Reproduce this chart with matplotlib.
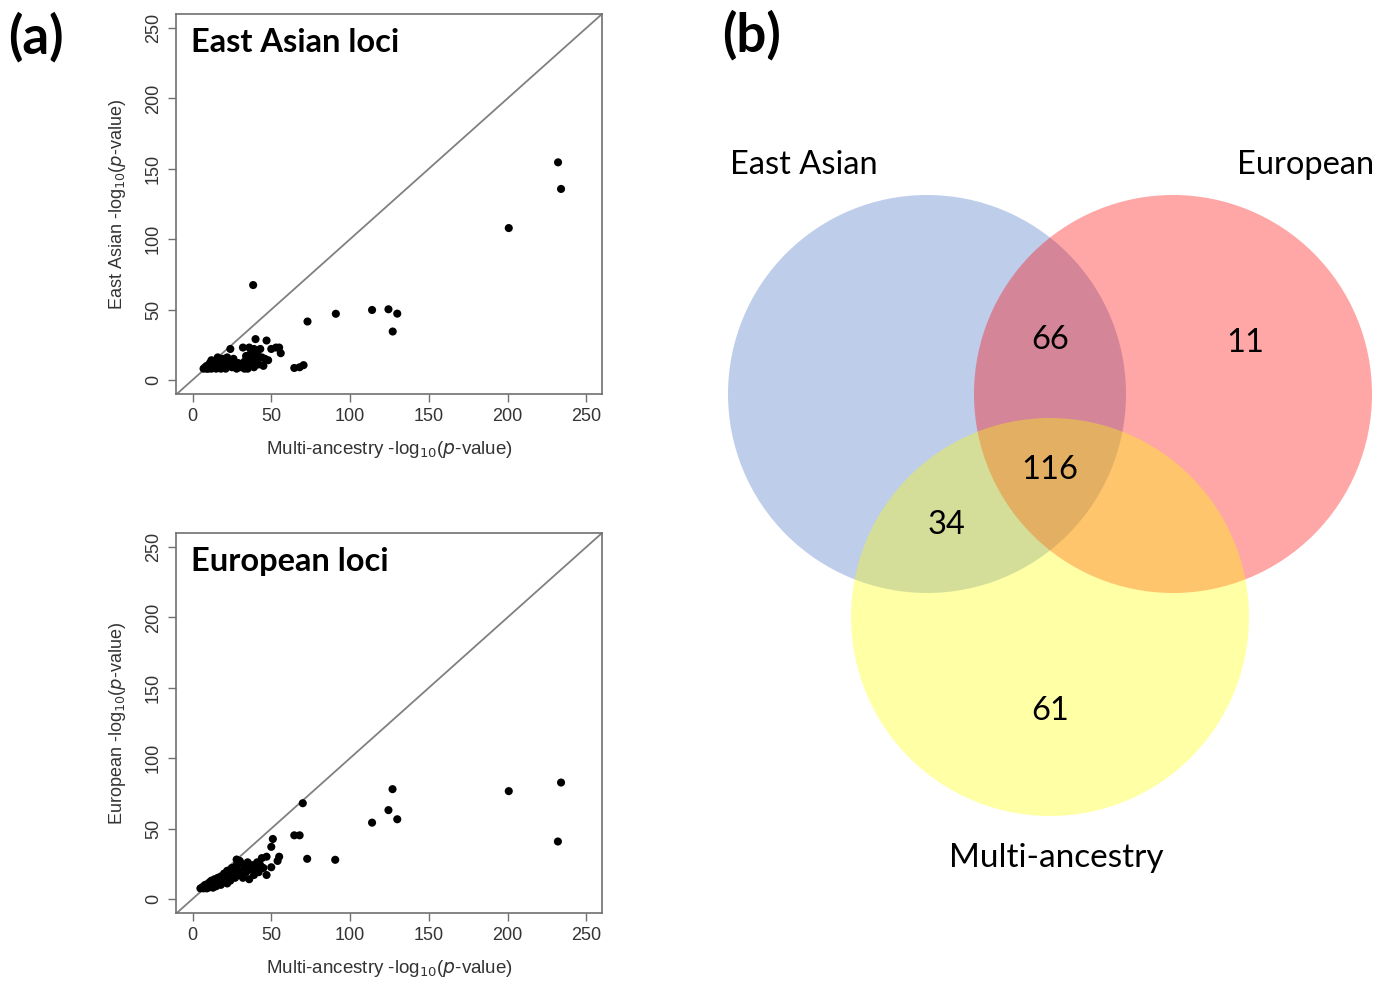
import matplotlib
matplotlib.use('Agg')
from matplotlib import pyplot as plt
from matplotlib.patches import Circle

# (a) top: East Asian loci, multi-ancestry vs East Asian -log10(p)
ea_x = [7, 8, 9, 9, 10, 10, 11, 11, 12, 12, 12, 13, 13, 14, 14, 15, 15, 16, 16, 17,
        17, 18, 18, 19, 19, 20, 20, 21, 21, 22, 22, 23, 24, 24, 25, 26, 27, 28, 29, 30,
        31, 32, 33, 33, 34, 35, 35, 36, 36, 37, 38, 38, 39, 39, 40, 40, 41, 42, 43, 44,
        45, 46, 47, 48, 50, 53, 55, 56, 64.6, 68, 70.5, 73, 91, 114, 124.4, 130, 127.1,
        200.8, 232.1, 234, 38.5]
ea_y = [8, 9, 8, 10, 10, 8, 9, 12, 11, 8, 14, 10, 13, 9, 12, 8, 14, 10, 16, 9,
        13, 12, 8, 11, 15, 14, 9, 8, 11, 12, 16, 10, 22, 13, 9, 15, 11, 8, 12, 9,
        10, 23, 13, 8, 17, 11, 8, 23, 15, 19, 12, 15, 22, 9, 29, 14, 18, 11, 22, 16,
        10, 15, 28, 14, 22, 23, 23, 19, 8.5, 9, 10.5, 41.5, 47, 49.7, 50.2, 47.1, 34.4,
        107.9, 154.6, 135.7, 67.4]

# (a) bottom: European loci, multi-ancestry vs European -log10(p)
eu_x = [5, 6, 7, 7, 8, 8, 9, 9, 10, 10, 11, 11, 12, 12, 13, 13, 14, 14, 15, 15,
        16, 16, 17, 18, 18, 19, 20, 20, 21, 22, 22, 23, 24, 25, 26, 27, 28, 28, 29, 30,
        30, 31, 32, 33, 34, 35, 36, 37, 38, 39, 40, 41, 42, 43, 44, 45, 47, 47, 50, 50,
        51, 54, 55, 64.6, 68, 70, 72.8, 90.6, 114, 124.4, 127, 130, 200.8, 232, 234]
eu_y = [7.5, 8, 7.5, 9, 8, 10, 9, 7.5, 11, 8, 10, 12, 9, 13, 11, 8, 14, 10, 12, 9,
        15, 11, 13, 10, 16, 14, 12, 18, 15, 11, 20, 17, 13, 22, 18, 15, 28, 24, 20, 27,
        17, 25, 15, 22, 19, 26, 14, 21, 24, 17, 22, 26, 19, 24, 29, 22, 30, 17, 22.5, 37,
        42.6, 27, 30, 45.2, 45.2, 68, 28.5, 27.8, 54.2, 63.1, 78, 56.6, 76.6, 40.8, 82.7]

# (b) Venn counts
set_names = ['East Asian', 'European', 'Multi-ancestry']
region_counts = {'EA&EU': 66, 'EU': 11, 'ALL': 116, 'EA&MA': 34, 'MA': 61}

W, H = 1394, 983
fig = plt.figure(figsize=(W / 100, H / 100), dpi=100)
fig.patch.set_facecolor('white')

tick_font = 'Liberation Sans'
title_font = 'Lato'


def scatter_panel(rect, x, y, title, ylabel):
    ax = fig.add_axes(rect)
    ax.scatter(x, y, s=34, color='black', edgecolors='none', zorder=3)
    ax.axline((0, 0), slope=1, color='#808080', lw=1.3, zorder=2)
    ax.set_xlim(-10.5, 260)
    ax.set_ylim(-10, 260)
    ax.set_xticks([0, 50, 100, 150, 200, 250])
    ax.set_yticks([0, 50, 100, 150, 200, 250])
    for sp in ax.spines.values():
        sp.set_color('#707070')
        sp.set_linewidth(1.2)
    ax.tick_params(direction='out', length=6, width=1, color='#707070',
                   labelsize=13, labelcolor='#333333', pad=4)
    for lab in ax.get_xticklabels():
        lab.set_fontfamily(tick_font)
    for lab in ax.get_yticklabels():
        lab.set_fontfamily(tick_font)
        lab.set_rotation(90)
        lab.set_va('center')
    ax.set_xlabel('Multi-ancestry -log$_{10}$($p$-value)', fontsize=13.5,
                  color='#333333', family=tick_font, labelpad=10)
    ax.set_ylabel(ylabel + ' -log$_{10}$($p$-value)', fontsize=13,
                  color='#333333', family=tick_font, labelpad=12)
    ax.text(0.036, 0.925, title, transform=ax.transAxes, fontsize=23.5,
            fontweight='bold', family=title_font, va='center', ha='left')
    return ax


scatter_panel([176 / W, 1 - 394 / H, 426 / W, 380 / H], ea_x, ea_y,
              'East Asian loci', 'East Asian')
scatter_panel([176 / W, 1 - 913 / H, 426 / W, 380 / H], eu_x, eu_y,
              'European loci', 'European')

fig.text(8 / W, 1 - 37 / H, '(a)', fontsize=38, fontweight='bold',
         family=title_font, va='center', ha='left')
fig.text(722 / W, 1 - 35 / H, '(b)', fontsize=38, fontweight='bold',
         family=title_font, va='center', ha='left')

# Venn diagram in pixel coordinates
vx0 = 700
ax_v = fig.add_axes([vx0 / W, 0, (W - vx0) / W, 1])
ax_v.set_xlim(vx0, W)
ax_v.set_ylim(H, 0)
ax_v.axis('off')

r = 199
circles = [((927, 394), '#4472c4'), ((1173, 394), '#ff0000'), ((1050, 617), '#ffff00')]
for (c, col) in circles:
    ax_v.add_patch(Circle(c, r, facecolor=col, alpha=0.35, edgecolor='none'))

vfont = 'Lato'
ax_v.text(730, 165, set_names[0], fontsize=23.5, family=vfont, ha='left', va='center')
ax_v.text(1374, 165, set_names[1], fontsize=23.5, family=vfont, ha='right', va='center')
ax_v.text(1056, 858, set_names[2], fontsize=24, family=vfont, ha='center', va='center')

count_pos = {'EA&EU': (1050, 340), 'EU': (1245, 343), 'ALL': (1050, 470),
             'EA&MA': (946, 525), 'MA': (1050, 711)}
for key, val in region_counts.items():
    px, py = count_pos[key]
    ax_v.text(px, py, str(val), fontsize=23.5, family=vfont, ha='center', va='center')

fig.savefig('out.png', dpi=100)
